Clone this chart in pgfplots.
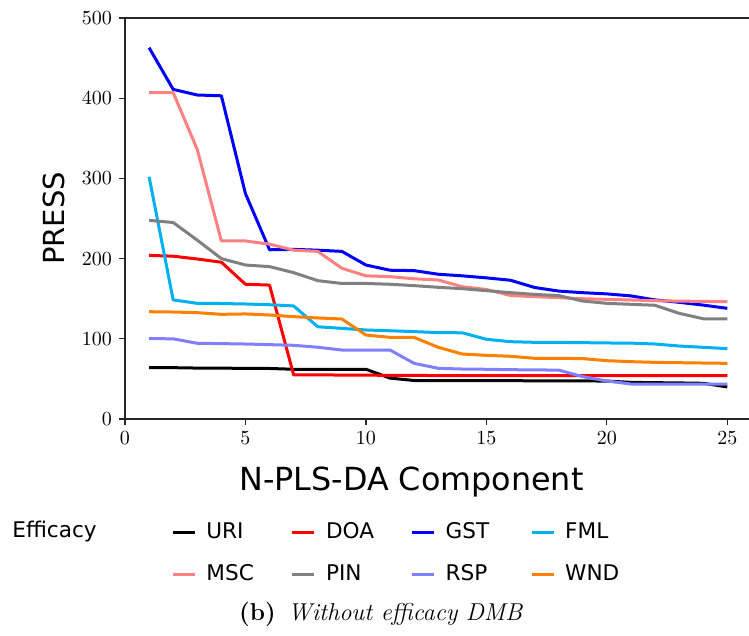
\documentclass[border=0pt]{standalone}
\usepackage{fontspec}
\usepackage{pgfplots}
\pgfplotsset{compat=1.18}
\newfontfamily\dejavu{DejaVu Sans}
\definecolor{cURI}{HTML}{000000}
\definecolor{cDOA}{HTML}{FF0000}
\definecolor{cGST}{HTML}{0000FF}
\definecolor{cFML}{HTML}{00B0F0}
\definecolor{cMSC}{HTML}{FF8080}
\definecolor{cPIN}{HTML}{808080}
\definecolor{cRSP}{HTML}{8080FF}
\definecolor{cWND}{HTML}{FF8000}
\begin{document}
\begin{tikzpicture}
\begin{axis}[
  name=ax,
  scale only axis,
  width=312pt, height=200.5pt,
  xmin=0, xmax=25.9, ymin=0, ymax=500,
  axis x line=box, axis y line=left,
  axis line style={-, line width=0.7pt, black!85},
  xtick={0,5,10,15,20,25}, ytick={0,100,200,300,400,500},
  xtick pos=left, ytick pos=left,
  tick align=outside, major tick length=3pt,
  tick style={line width=0.6pt, black!85},
  xlabel={N-PLS-DA Component},
  ylabel={PRESS},
  xlabel style={font=\dejavu\fontsize{15.9}{19}\selectfont, at={(axis description cs:0.459,0)}, anchor=base, yshift=-35.5pt},
  ylabel style={font=\dejavu\fontsize{14.5}{17}\selectfont, at={(axis description cs:0,0.5)}, anchor=base, yshift=30pt},
  every axis plot/.append style={line width=1.5pt, line join=round},
  legend columns=4,
  legend image code/.code={\draw[#1] (0pt,0pt) -- (11pt,0pt);},
  legend style={draw=none, fill=none, inner sep=0pt,
    at={(axis description cs:0,0)}, anchor=north west, xshift=23pt, yshift=-49.5pt,
    font=\dejavu\fontsize{10.8}{13}\selectfont,
    row sep=7pt,
    nodes={text width=30pt, align=left, inner xsep=2pt, inner ysep=2pt, text height=8pt, text depth=2pt},
    /tikz/every odd column/.append style={column sep=3pt},
    /tikz/every even column/.append style={column sep=10.3pt}},
]
\addplot[cURI] coordinates {(1,64) (2,64) (3,63.5) (4,63.5) (5,63) (6,63) (7,62) (8,62) (9,62) (10,62) (11,51) (12,48) (13,47.8) (14,47.8) (15,47.8) (16,47.8) (17,47.6) (18,47.5) (19,47.5) (20,47.3) (21,45.7) (22,45.3) (23,45) (24,44.5) (25,40)};
\addlegendentry{URI}
\addplot[cDOA] coordinates {(1,204) (2,203) (3,199.5) (4,195.5) (5,168) (6,167) (7,55) (8,55) (9,54.8) (10,54.6) (11,54.5) (12,54.3) (13,54.2) (14,54.1) (15,54) (16,54) (17,54) (18,54) (19,54) (20,54) (21,54) (22,54) (23,54) (24,54) (25,54)};
\addlegendentry{DOA}
\addplot[cGST] coordinates {(1,463) (2,411) (3,404) (4,403) (5,281) (6,211) (7,211.5) (8,210.5) (9,209) (10,192) (11,185.5) (12,185) (13,180.5) (14,178.5) (15,176) (16,173) (17,164) (18,159.5) (19,157.5) (20,156) (21,153.5) (22,148.5) (23,145.5) (24,142) (25,138)};
\addlegendentry{GST}
\addplot[cFML] coordinates {(1,302) (2,148.5) (3,144.2) (4,144) (5,143.4) (6,142.5) (7,141) (8,115) (9,113) (10,111) (11,110) (12,109) (13,107.7) (14,107.5) (15,99.4) (16,96.4) (17,95.6) (18,95.5) (19,95.2) (20,94.8) (21,94.6) (22,93.5) (23,91) (24,89.4) (25,87.7)};
\addlegendentry{FML}
\addplot[cMSC] coordinates {(1,407) (2,407) (3,336) (4,222) (5,222) (6,218) (7,210.5) (8,209) (9,188) (10,178.5) (11,177.5) (12,174.8) (13,173.3) (14,165) (15,161.5) (16,154) (17,152.5) (18,151.3) (19,150) (20,149.2) (21,148.4) (22,147.5) (23,147) (24,146.6) (25,146.3)};
\addlegendentry{MSC}
\addplot[cPIN] coordinates {(1,247.7) (2,245) (3,223) (4,200) (5,192) (6,190) (7,182.5) (8,172.5) (9,169) (10,169) (11,168) (12,166.3) (13,164.2) (14,162.5) (15,160) (16,157.5) (17,155.4) (18,153.8) (19,147.1) (20,144.2) (21,143) (22,141.8) (23,131.8) (24,125) (25,125)};
\addlegendentry{PIN}
\addplot[cRSP] coordinates {(1,100.2) (2,100) (3,94.4) (4,94) (5,93.5) (6,92.7) (7,91.9) (8,89.5) (9,86) (10,86) (11,86) (12,69.4) (13,63.2) (14,62.3) (15,62) (16,61.5) (17,61.2) (18,61) (19,52.8) (20,47.4) (21,43.6) (22,43.6) (23,43.6) (24,43.6) (25,43.6)};
\addlegendentry{RSP}
\addplot[cWND] coordinates {(1,133.8) (2,133.4) (3,132.6) (4,130.5) (5,131) (6,129.7) (7,127.6) (8,126) (9,124.7) (10,104.7) (11,101.8) (12,101.8) (13,89.4) (14,81) (15,79.4) (16,78.2) (17,75.7) (18,75.6) (19,75.3) (20,72.7) (21,71.5) (22,70.6) (23,70.2) (24,69.8) (25,69.4)};
\addlegendentry{WND}
\end{axis}
\node[anchor=base west, inner sep=0pt, font=\dejavu\fontsize{10.8}{13}\selectfont] at ([xshift=-56.5pt, yshift=-59.5pt]ax.south west) {Efficacy};
\node[anchor=base, inner sep=0pt] at ([xshift=128pt, yshift=-101pt]ax.south west) {\fontsize{12.2}{14}\selectfont\textbf{(b)}\enspace\textit{Without efficacy DMB}};
\pgfresetboundingbox
\path[use as bounding box] ([xshift=-62.5pt, yshift=209.5pt]ax.south west) rectangle ([xshift=312pt, yshift=-108.5pt]ax.south west);
\end{tikzpicture}
\end{document}
